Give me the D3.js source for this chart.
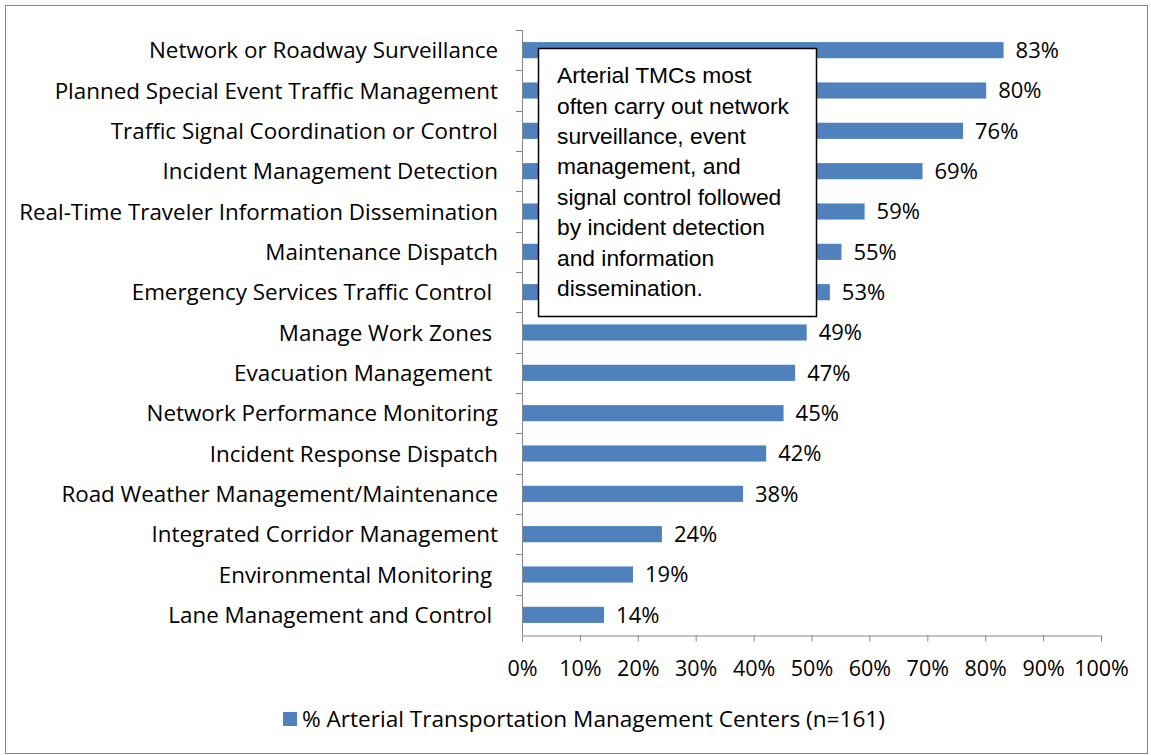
<!DOCTYPE html>
<style>
body { margin: 0; background: #fff; }
text { font-family: "Open Sans", Lato, sans-serif; fill: #000; }
.axis .domain, .axis line { stroke: #868686; }
</style>
<svg width="1151" height="755"></svg>
<script src="https://d3js.org/d3.v7.min.js"></script>
<script>

var categories = [
  "Network or Roadway Surveillance",
  "Planned Special Event Traffic Management",
  "Traffic Signal Coordination or Control",
  "Incident Management Detection",
  "Real-Time Traveler Information Dissemination",
  "Maintenance Dispatch",
  "Emergency Services Traffic Control ",
  "Manage Work Zones ",
  "Evacuation Management ",
  "Network Performance Monitoring",
  "Incident Response Dispatch",
  "Road Weather Management/Maintenance",
  "Integrated Corridor Management",
  "Environmental Monitoring ",
  "Lane Management and Control "
];
var values = [83, 80, 76, 69, 59, 55, 53, 49, 47, 45, 42, 38, 24, 19, 14];
var ticks = [0, 10, 20, 30, 40, 50, 60, 70, 80, 90, 100];
var seriesName = "% Arterial Transportation Management Centers (n=161)";
var note = [
  "Arterial TMCs most",
  "often carry out network",
  "surveillance, event",
  "management, and",
  "signal control followed",
  "by incident detection",
  "and information",
  "dissemination."
];

var svg = d3.select("svg"),
    margin = {top: 30, right: 50, bottom: 120, left: 522},
    width = +svg.attr("width") - margin.left - margin.right,
    height = +svg.attr("height") - margin.top - margin.bottom,
    g = svg.append("g").attr("transform", "translate(" + margin.left + "," + margin.top + ")");

// chart border
svg.append("rect")
    .attr("x", 5.5).attr("y", 5.5)
    .attr("width", 1142).attr("height", 748)
    .attr("fill", "none").attr("stroke", "#868686");

var x = d3.scaleLinear().domain([0, 100]).range([0, width]);
var y = d3.scaleBand().domain(categories).range([0, height]).paddingInner(0.6).paddingOuter(0.3);

var data = categories.map(function(c, i) { return {name: c, value: values[i]}; });

g.selectAll(".bar")
  .data(data)
  .enter().append("rect")
    .attr("class", "bar")
    .attr("x", x(0) + 1)
    .attr("y", function(d) { return y(d.name); })
    .attr("width", function(d) { return x(d.value) - x(0); })
    .attr("height", y.bandwidth())
    .attr("fill", "#4f81bd");

g.selectAll(".val")
  .data(data)
  .enter().append("text")
    .attr("class", "val")
    .attr("x", function(d) { return x(d.value) + 13; })
    .attr("y", function(d) { return y(d.name) + y.bandwidth() / 2; })
    .attr("dy", "0.36em")
    .attr("font-size", 22)
    .text(function(d) { return d.value + "%"; });

// y axis: line with ticks at band boundaries
var ya = g.append("g").attr("class", "axis");
ya.append("line")
    .attr("x1", 0.5).attr("x2", 0.5)
    .attr("y1", 0).attr("y2", height)
    .attr("stroke", "#868686");
ya.selectAll(".tk")
  .data(d3.range(categories.length))
  .enter().append("line")
    .attr("x1", -6).attr("x2", 0.5)
    .attr("y1", function(i) { return Math.round(i * height / categories.length) + 0.5; })
    .attr("y2", function(i) { return Math.round(i * height / categories.length) + 0.5; })
    .attr("stroke", "#868686");

g.selectAll(".cat")
  .data(data)
  .enter().append("text")
    .attr("class", "cat")
    .attr("x", -24)
    .attr("y", function(d) { return y(d.name) + y.bandwidth() / 2; })
    .attr("dy", "0.36em")
    .attr("text-anchor", "end")
    .attr("font-size", 22.4)
    .style("white-space", "pre")
    .text(function(d) { return d.name; });

// x axis
var xa = g.append("g")
    .attr("class", "axis")
    .attr("transform", "translate(0," + (height + 0.5) + ")")
    .call(d3.axisBottom(x).tickValues(ticks).tickSize(6).tickSizeOuter(6)
      .tickFormat(function(d) { return d + "%"; }));
xa.selectAll("text")
    .attr("font-size", 21.5)
    .attr("font-family", "'Open Sans', sans-serif")
    .attr("fill", "#000")
    .attr("y", 33)
    .attr("dy", "0.36em");

// annotation box
var nb = svg.append("g").attr("transform", "translate(538,48)");
nb.append("rect")
    .attr("x", 0.5).attr("y", 0.5)
    .attr("width", 278).attr("height", 268)
    .attr("fill", "#fff").attr("stroke", "#000").attr("stroke-width", 1.5);
nb.selectAll("text")
  .data(note)
  .enter().append("text")
    .attr("x", 19)
    .attr("y", function(d, i) { return 27 + i * 30.4; })
    .attr("dy", "0.36em")
    .attr("font-size", 22.8)
    .style("font-family", "'Liberation Sans', Arial, sans-serif")
    .text(function(d) { return d; });

// legend
var lg = svg.append("g").attr("transform", "translate(283,712)");
lg.append("rect").attr("width", 14).attr("height", 14).attr("fill", "#4f81bd");
lg.append("text")
    .attr("x", 19).attr("y", 7)
    .attr("dy", "0.36em")
    .attr("font-size", 22.6)
    .text(seriesName);

</script>
